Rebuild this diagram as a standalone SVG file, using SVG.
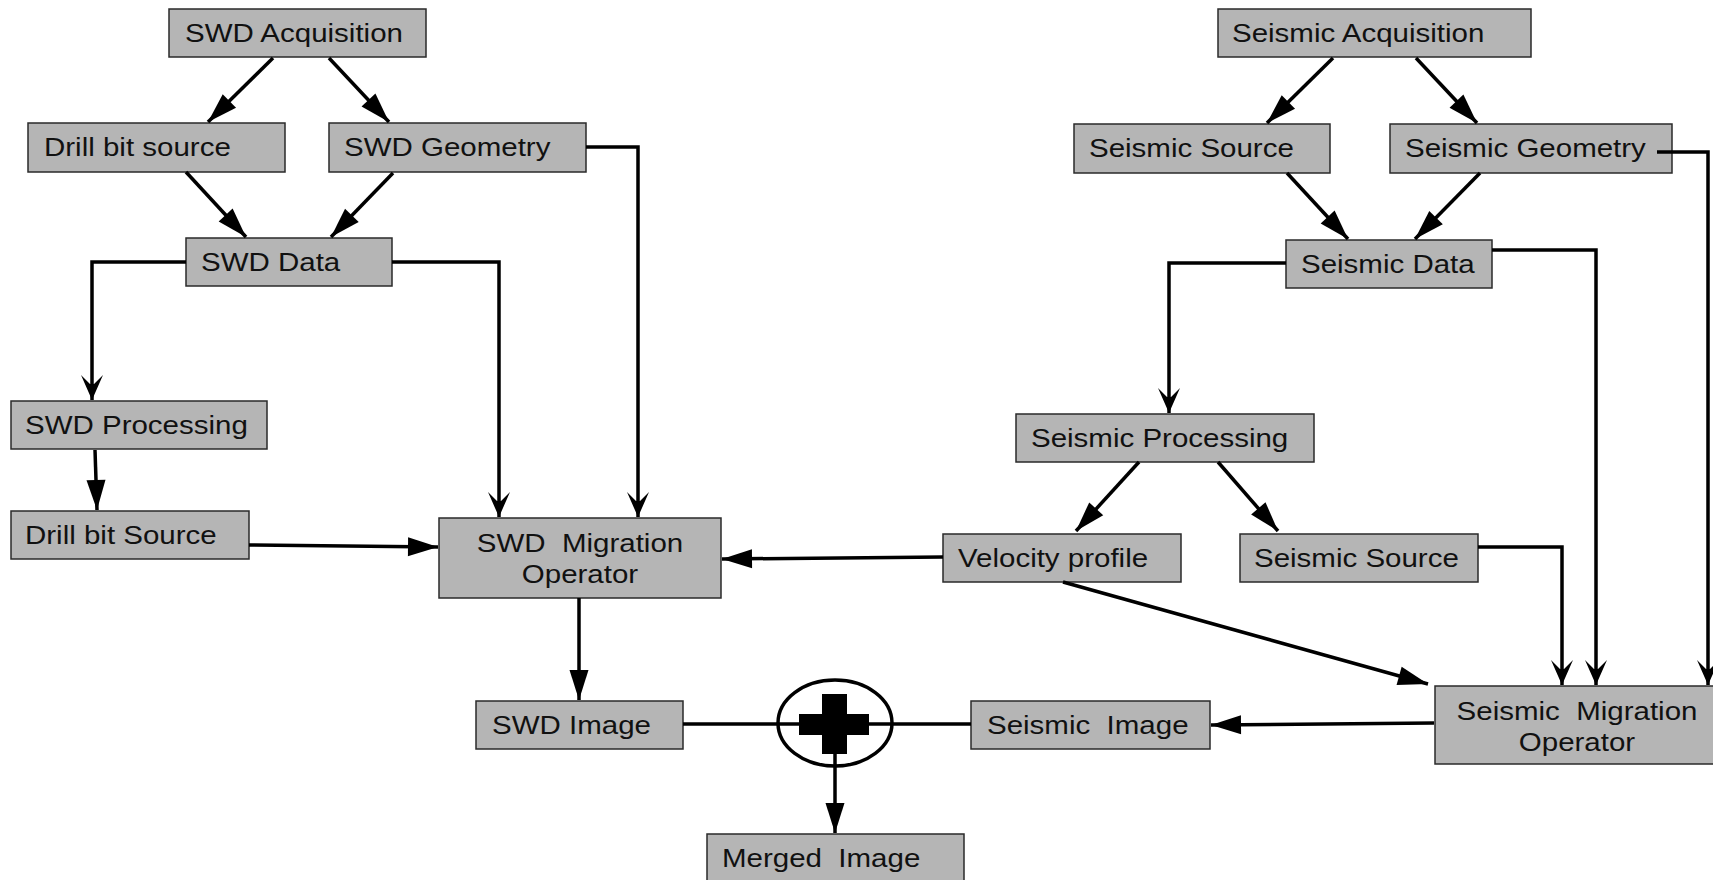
<svg xmlns="http://www.w3.org/2000/svg" width="1713" height="880" viewBox="0 0 1713 880">
<style>
.box{fill:#b5b5b5;stroke:#2a2a2a;stroke-width:1.5}
.lbl{font-family:"Liberation Sans",Arial,sans-serif;font-size:25px;fill:#111}
.mid{text-anchor:middle}
.conn{fill:none;stroke:#000;stroke-width:3.5}
</style>
<defs>
<marker id="ah" markerUnits="userSpaceOnUse" markerWidth="34" markerHeight="24" viewBox="-32 -12 34 24" refX="0" refY="0" orient="auto">
<path d="M0,0 L-30,-9.5 L-30,9.5 Z" fill="#000"/>
</marker>
<marker id="av" markerUnits="userSpaceOnUse" markerWidth="30" markerHeight="28" viewBox="-28 -14 30 28" refX="0" refY="0" orient="auto">
<path d="M0,0 L-25,-11 L-16,-2 L-16,2 L-25,11 Z" fill="#000"/>
</marker>
</defs>
<rect width="1713" height="880" fill="#fff"/>
<g id="swd-acquisition"><rect class="box" x="169" y="9" width="257" height="48"/><text class="lbl" transform="translate(185 42) scale(1.18 1)">SWD Acquisition</text></g>
<g id="drill-bit-source"><rect class="box" x="28" y="123" width="257" height="49"/><text class="lbl" transform="translate(44 156) scale(1.18 1)">Drill bit source</text></g>
<g id="swd-geometry"><rect class="box" x="329" y="123" width="257" height="49"/><text class="lbl" transform="translate(344 156) scale(1.18 1)">SWD Geometry</text></g>
<g id="swd-data"><rect class="box" x="186" y="238" width="206" height="48"/><text class="lbl" transform="translate(201 271) scale(1.18 1)">SWD Data</text></g>
<g id="swd-processing"><rect class="box" x="11" y="401" width="256" height="48"/><text class="lbl" transform="translate(25 434) scale(1.18 1)">SWD Processing</text></g>
<g id="drill-bit-source-2"><rect class="box" x="11" y="511" width="238" height="48"/><text class="lbl" transform="translate(25 544) scale(1.18 1)">Drill bit Source</text></g>
<g id="swd-migration-operator"><rect class="box" x="439" y="518" width="282" height="80"/><text class="lbl mid" transform="translate(580 552) scale(1.18 1)" xml:space="preserve">SWD  Migration</text><text class="lbl mid" transform="translate(580 583) scale(1.18 1)">Operator</text></g>
<g id="swd-image"><rect class="box" x="476" y="701" width="207" height="48"/><text class="lbl" transform="translate(492 734) scale(1.18 1)">SWD Image</text></g>
<g id="seismic-image"><rect class="box" x="971" y="701" width="239" height="48"/><text class="lbl" transform="translate(987 734) scale(1.18 1)" xml:space="preserve">Seismic  Image</text></g>
<g id="merged-image"><rect class="box" x="707" y="834" width="257" height="50"/><text class="lbl" transform="translate(722 867) scale(1.18 1)" xml:space="preserve">Merged  Image</text></g>
<g id="seismic-acquisition"><rect class="box" x="1218" y="9" width="313" height="48"/><text class="lbl" transform="translate(1232 42) scale(1.18 1)">Seismic Acquisition</text></g>
<g id="seismic-source"><rect class="box" x="1074" y="124" width="256" height="49"/><text class="lbl" transform="translate(1089 157) scale(1.18 1)">Seismic Source</text></g>
<g id="seismic-geometry"><rect class="box" x="1390" y="124" width="282" height="49"/><text class="lbl" transform="translate(1405 157) scale(1.18 1)">Seismic Geometry</text></g>
<g id="seismic-data"><rect class="box" x="1286" y="240" width="206" height="48"/><text class="lbl" transform="translate(1301 273) scale(1.18 1)">Seismic Data</text></g>
<g id="seismic-processing"><rect class="box" x="1016" y="414" width="298" height="48"/><text class="lbl" transform="translate(1031 447) scale(1.18 1)">Seismic Processing</text></g>
<g id="velocity-profile"><rect class="box" x="943" y="534" width="238" height="48"/><text class="lbl" transform="translate(958 567) scale(1.18 1)">Velocity profile</text></g>
<g id="seismic-source-2"><rect class="box" x="1240" y="534" width="238" height="48"/><text class="lbl" transform="translate(1254 567) scale(1.18 1)">Seismic Source</text></g>
<g id="seismic-migration-operator"><rect class="box" x="1435" y="686" width="284" height="78"/><text class="lbl mid" transform="translate(1577 720) scale(1.18 1)" xml:space="preserve">Seismic  Migration</text><text class="lbl mid" transform="translate(1577 751) scale(1.18 1)">Operator</text></g>
<g id="connectors">
<line class="conn" x1="273" y1="58" x2="208" y2="122" marker-end="url(#ah)"/>
<line class="conn" x1="329" y1="58" x2="389" y2="122" marker-end="url(#ah)"/>
<line class="conn" x1="186" y1="172" x2="246" y2="237" marker-end="url(#ah)"/>
<line class="conn" x1="393" y1="173" x2="331" y2="237" marker-end="url(#ah)"/>
<polyline class="conn" points="186,262 92,262 92,400" marker-end="url(#av)"/>
<polyline class="conn" points="392,262 499,262 499,517" marker-end="url(#av)"/>
<polyline class="conn" points="586,147 638,147 638,517" marker-end="url(#av)"/>
<line class="conn" x1="95" y1="450" x2="97" y2="510" marker-end="url(#ah)"/>
<line class="conn" x1="249" y1="545" x2="438" y2="547" marker-end="url(#ah)"/>
<line class="conn" x1="943" y1="557" x2="722" y2="559" marker-end="url(#ah)"/>
<line class="conn" x1="579" y1="598" x2="579" y2="700" marker-end="url(#ah)"/>
<line class="conn" x1="683" y1="724" x2="971" y2="724"/>
<line class="conn" x1="835" y1="740" x2="835" y2="833" marker-end="url(#ah)"/>
<line class="conn" x1="1434" y1="723" x2="1211" y2="725" marker-end="url(#ah)"/>
<line class="conn" x1="1063" y1="582" x2="1428" y2="684" marker-end="url(#ah)"/>
<line class="conn" x1="1333" y1="58" x2="1267" y2="123" marker-end="url(#ah)"/>
<line class="conn" x1="1416" y1="58" x2="1477" y2="123" marker-end="url(#ah)"/>
<line class="conn" x1="1287" y1="173" x2="1348" y2="239" marker-end="url(#ah)"/>
<line class="conn" x1="1480" y1="173" x2="1415" y2="239" marker-end="url(#ah)"/>
<polyline class="conn" points="1286,263 1169,263 1169,413" marker-end="url(#av)"/>
<polyline class="conn" points="1492,250 1596,250 1596,685" marker-end="url(#av)"/>
<polyline class="conn" points="1657,152 1708,152 1708,685" marker-end="url(#av)"/>
<line class="conn" x1="1139" y1="462" x2="1076" y2="531" marker-end="url(#ah)"/>
<line class="conn" x1="1218" y1="462" x2="1278" y2="531" marker-end="url(#ah)"/>
<polyline class="conn" points="1478,547 1562,547 1562,685" marker-end="url(#av)"/>
</g>
<g id="merge-sum"><ellipse cx="835" cy="723" rx="57" ry="43" fill="none" stroke="#000" stroke-width="3.5"/><rect x="822" y="694" width="25" height="60" fill="#000"/><rect x="799" y="714" width="70" height="21" fill="#000"/></g>
</svg>
